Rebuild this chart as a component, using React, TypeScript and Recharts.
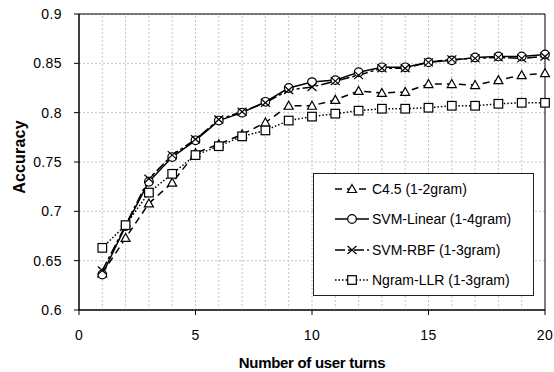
import React from "react";
import { LineChart, Line, XAxis, YAxis, CartesianGrid, ReferenceLine, ReferenceArea, Legend } from "recharts";

const turns = [1, 2, 3, 4, 5, 6, 7, 8, 9, 10, 11, 12, 13, 14, 15, 16, 17, 18, 19, 20];
const c45 = [0.637, 0.673, 0.708, 0.729, 0.759, 0.768, 0.778, 0.790, 0.807, 0.807, 0.813, 0.822, 0.820, 0.821, 0.829, 0.829, 0.828, 0.833, 0.838, 0.840];
const svmLinear = [0.636, 0.685, 0.730, 0.755, 0.772, 0.792, 0.800, 0.811, 0.825, 0.831, 0.833, 0.841, 0.846, 0.846, 0.851, 0.853, 0.856, 0.857, 0.857, 0.859];
const svmRbf = [0.640, 0.686, 0.733, 0.757, 0.773, 0.793, 0.801, 0.810, 0.823, 0.826, 0.832, 0.838, 0.845, 0.845, 0.851, 0.854, 0.855, 0.856, 0.855, 0.857];
const ngramLlr = [0.663, 0.686, 0.719, 0.738, 0.757, 0.766, 0.776, 0.782, 0.792, 0.796, 0.799, 0.802, 0.804, 0.804, 0.805, 0.807, 0.807, 0.809, 0.810, 0.810];

const xTicks = [0, 5, 10, 15, 20];
const yTicks = [0.6, 0.65, 0.7, 0.75, 0.8, 0.85, 0.9];
const gridX = [1, 2, 3, 4, 5, 6, 7, 8, 9, 10, 11, 12, 13, 14, 15, 16, 17, 18, 19];

const FONT = "'Liberation Sans', Arial, sans-serif";

const data = turns.map((t, i) => ({
  turn: t,
  c45: c45[i],
  svmLinear: svmLinear[i],
  svmRbf: svmRbf[i],
  ngram: ngramLlr[i],
}));

type MarkerKind = "triangle" | "circle" | "cross" | "square";

const Marker = ({ kind, cx, cy }: { kind: MarkerKind; cx: number; cy: number }) => {
  if (kind === "triangle")
    return <path d={`M${cx},${cy - 4.5} L${cx + 4.5},${cy + 3.5} L${cx - 4.5},${cy + 3.5} Z`} fill="#fff" stroke="#000" strokeWidth={1.2} />;
  if (kind === "circle") return <circle cx={cx} cy={cy} r={4.3} fill="#fff" stroke="#000" strokeWidth={1.2} />;
  if (kind === "square")
    return <rect x={cx - 4.3} y={cy - 4.3} width={8.6} height={8.6} fill="#fff" stroke="#000" strokeWidth={1.2} />;
  return (
    <g stroke="#000" strokeWidth={1.2}>
      <line x1={cx - 4.5} y1={cy - 4} x2={cx + 4.5} y2={cy + 4} />
      <line x1={cx - 4.5} y1={cy + 4} x2={cx + 4.5} y2={cy - 4} />
    </g>
  );
};

const series = [
  { key: "c45", name: "C4.5 (1-2gram)", dash: "7 5", marker: "triangle" as MarkerKind },
  { key: "svmLinear", name: "SVM-Linear (1-4gram)", dash: undefined, marker: "circle" as MarkerKind },
  { key: "svmRbf", name: "SVM-RBF (1-3gram)", dash: "10 3 3 3", marker: "cross" as MarkerKind },
  { key: "ngram", name: "Ngram-LLR (1-3gram)", dash: "1.5 2", marker: "square" as MarkerKind },
];

const renderLegend = () => (
  <div
    style={{
      width: 221,
      height: 123,
      border: "1px solid #222",
      background: "#fff",
      boxSizing: "border-box",
      fontFamily: FONT,
      fontSize: 14,
      color: "#000",
    }}
  >
    {series.map((s) => (
      <div key={s.key} style={{ display: "flex", alignItems: "center", height: 30.3 }}>
        <svg width={36} height={14} style={{ marginLeft: 21, marginRight: 1 }}>
          <line x1={0} y1={7} x2={34} y2={7} stroke="#000" strokeWidth={1.5} strokeDasharray={s.dash} />
          <Marker kind={s.marker} cx={17} cy={7} />
        </svg>
        <span>{s.name}</span>
      </div>
    ))}
  </div>
);

const YLabel = (props: any) => {
  const vb = props.viewBox || {};
  const cx = 19;
  const cy = vb.y + vb.height / 2 - 5;
  return (
    <text
      x={cx}
      y={cy}
      transform={`rotate(-90, ${cx}, ${cy})`}
      textAnchor="middle"
      dominantBaseline="central"
      fontFamily={FONT}
      fontWeight="bold"
      fontSize={16}
      letterSpacing={0.2}
      fill="#000"
    >
      Accuracy
    </text>
  );
};

const XLabel = (props: any) => {
  const vb = props.viewBox || {};
  return (
    <text
      x={vb.x + vb.width / 2}
      y={368}
      textAnchor="middle"
      fontFamily={FONT}
      fontWeight="bold"
      fontSize={15}
      letterSpacing={-0.3}
      fill="#000"
    >
      Number of user turns
    </text>
  );
};

const App = () => {
  return (
    <div style={{ position: "absolute", left: 0, top: 0, width: 554, height: 372, background: "#fff" }}>
      <LineChart width={554} height={372} data={data} margin={{ top: 14, right: 9, bottom: 32, left: 0 }}>
        <CartesianGrid vertical={false} stroke="#c4c4c4" strokeDasharray="2 2" />
        {gridX.map((g) => (
          <ReferenceLine key={g} x={g} stroke="#c4c4c4" strokeDasharray="2 2" />
        ))}
        <ReferenceArea x1={0} x2={20} y1={0.6} y2={0.9} fill="none" stroke="#000" strokeWidth={1} />
        <XAxis
          dataKey="turn"
          type="number"
          domain={[0, 20]}
          ticks={xTicks}
          tickSize={5}
          tickMargin={15}
          stroke="#000"
          tick={{ fontFamily: FONT, fontSize: 14, fill: "#000", letterSpacing: 0.4 }}
          label={<XLabel />}
        />
        <YAxis
          type="number"
          domain={[0.6, 0.9]}
          ticks={yTicks}
          width={79}
          tickSize={5}
          tickMargin={12}
          stroke="#000"
          tickFormatter={(v: number) => String(Number(v.toFixed(2)))}
          tick={{ fontFamily: FONT, fontSize: 14, fill: "#000", letterSpacing: 0.4 }}
          label={<YLabel />}
        />
        {series.map((s) => (
          <Line
            key={s.key}
            dataKey={s.key}
            name={s.name}
            type="linear"
            stroke="#000"
            strokeWidth={1.5}
            strokeDasharray={s.dash}
            isAnimationActive={false}
            dot={(p: any) => <Marker key={`${s.key}-${p.index}`} kind={s.marker} cx={p.cx} cy={p.cy} />}
            activeDot={false}
          />
        ))}
        <Legend
          layout="horizontal"
          align="center"
          verticalAlign="middle"
          content={renderLegend}
          wrapperStyle={{ position: "absolute", left: 313, top: 173, width: 221, height: 123 }}
        />
      </LineChart>
    </div>
  );
};

export default App;
